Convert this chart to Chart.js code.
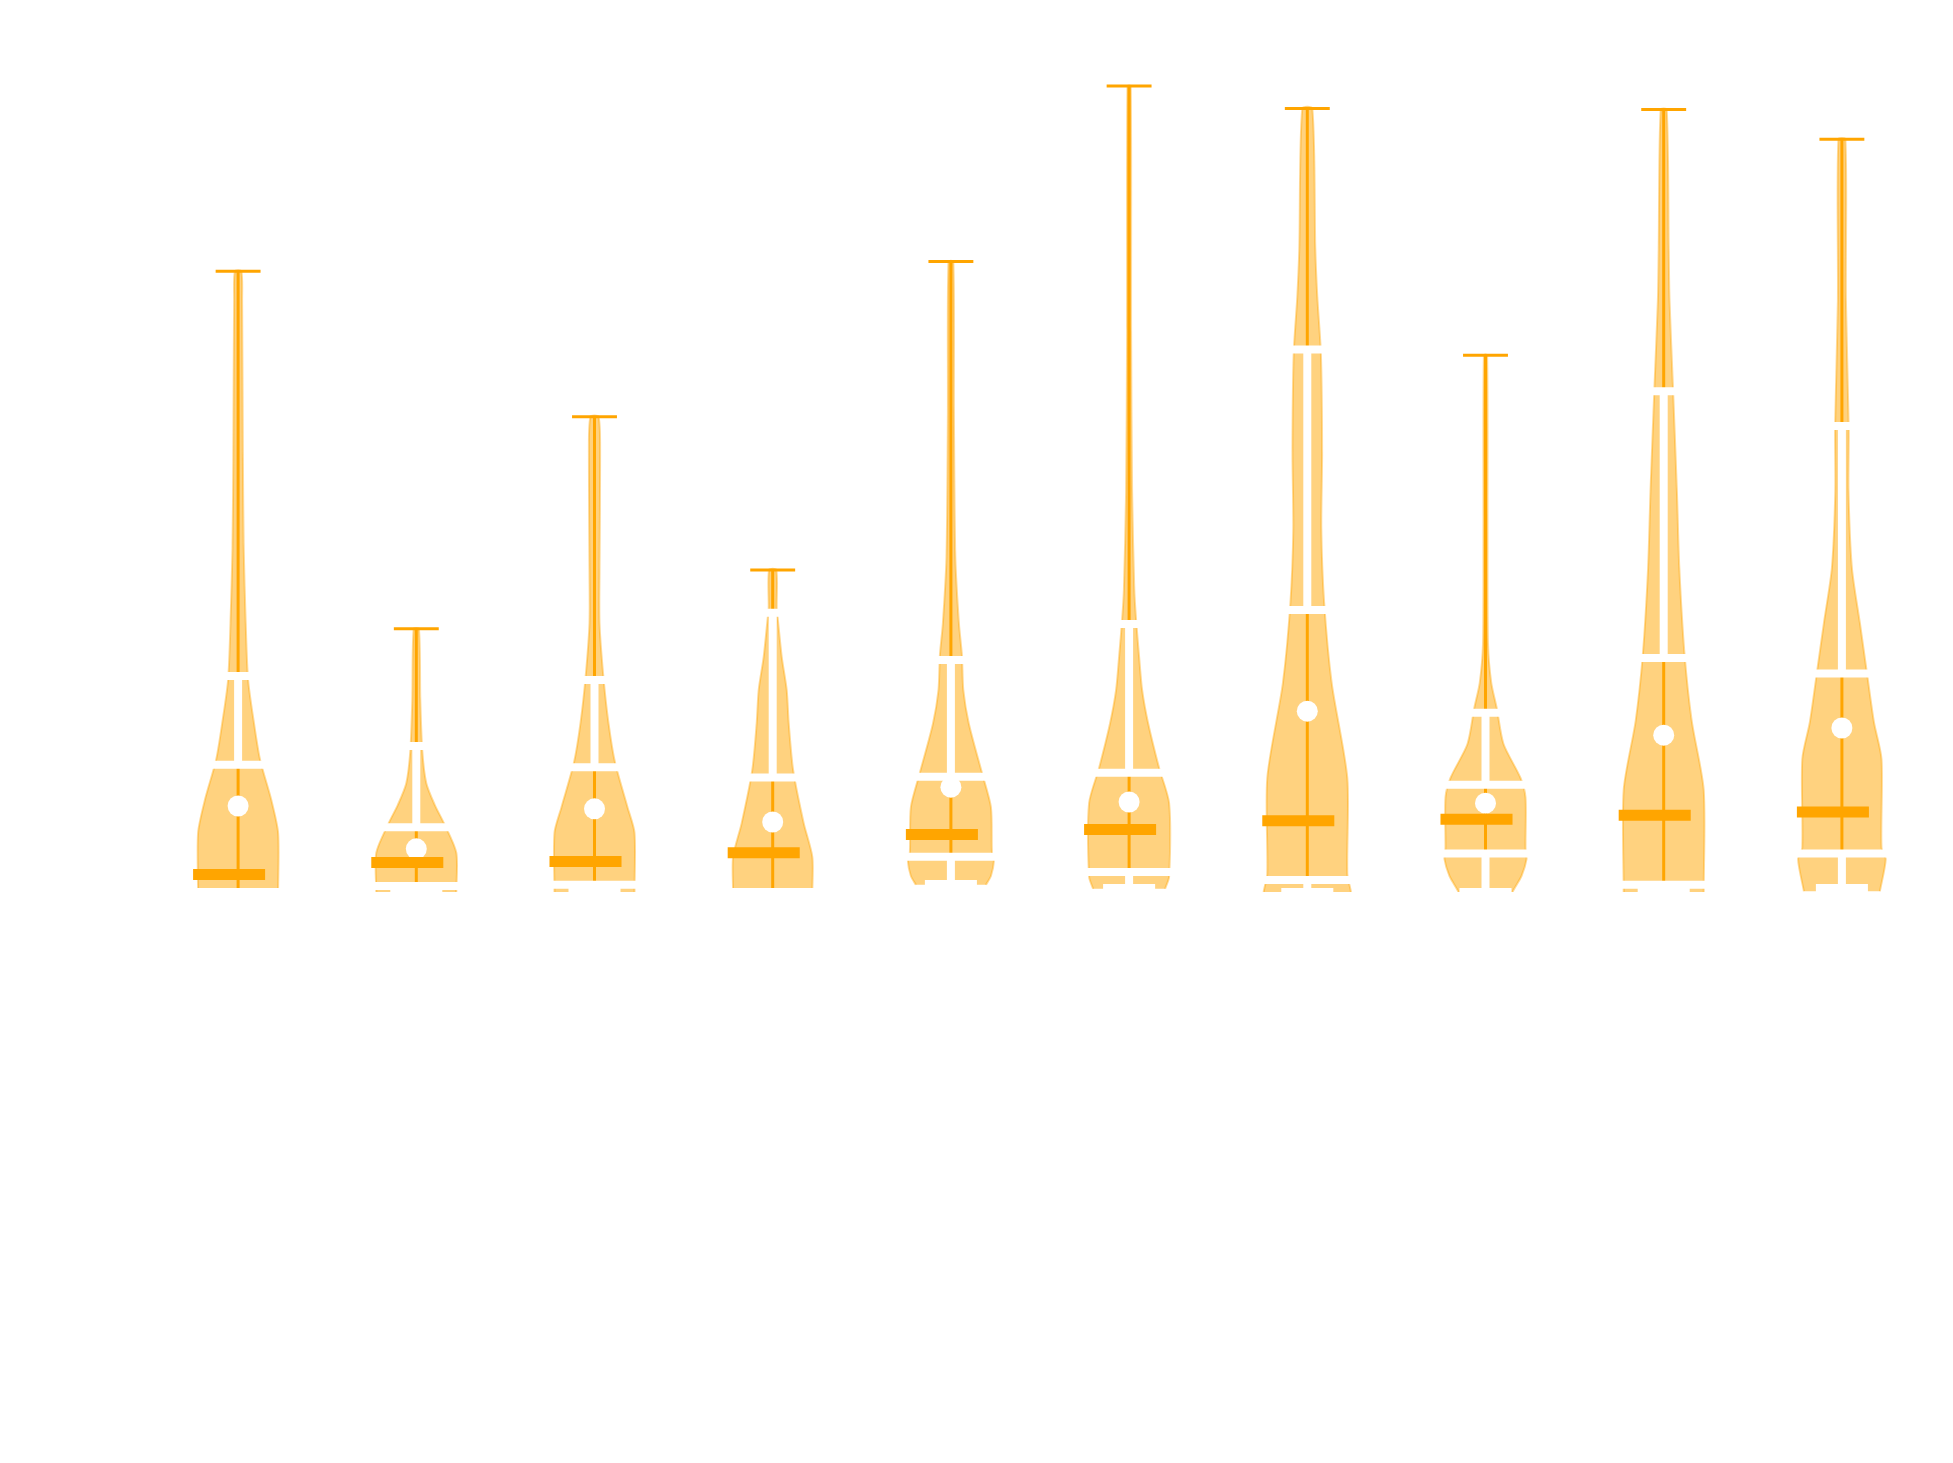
<!DOCTYPE html>
<html><head><meta charset="utf-8">
<script src="https://cdn.jsdelivr.net/npm/chart.js@4.4.0/dist/chart.umd.min.js"></script>
<style>html,body{margin:0;padding:0;background:#fff;}canvas{display:block;}</style>
</head><body>
<canvas id="c" width="1953" height="1463"></canvas>
<script>
// ---- data ----
const groups = [1, 2, 3, 4, 5, 6, 7, 8, 9, 10];
const maxVals      = [77.6, 32.9, 59.4, 40.25, 78.8, 100.75, 97.95, 67.1, 97.8, 94.1];
const upperWhisker = [27.0, 18.25, 26.5, 34.9, 29.0, 33.5, 67.8, 22.4, 62.6, 58.25];
const q3Vals       = [15.9, 8.1, 15.6, 14.3, 14.4, 14.9, 35.25, 13.4, 29.25, 27.3];
const meanVals     = [10.75, 5.4, 10.4, 8.75, 13.1, 11.25, 22.6, 11.1, 19.6, 20.5];
const medianVals   = [2.2, 3.7, 3.8, 4.9, 7.2, 7.8, 8.9, 9.1, 9.6, 10.0];
const q1Vals       = [0, 0.75, 0.9, 0, 4.4, 2.5, 1.5, 4.8, 0.9, 4.8];
const lowerWhisker = [0, 0, 0, 0, 1.0, 0.5, 0, 0, 0, 0.5];
const minVals      = [0, 0, 0, 0, 1.0, 0.4, 0, 0, 0, 0.1];

// violin density profiles (level, relative density); levels below 0 are the clipped tail
const levels1 = [-3, 0, 7.4, 11.5, 16.5, 21, 26.5, 33.6, 43, 54, 74, 77.6];
const dens1   = [1, 1, 1, 0.83, 0.55, 0.4, 0.25, 0.19, 0.14, 0.12, 0.1, 0.08];
const levels2 = [-3, 0, 4.9, 8.6, 10.9, 13.6, 17.6, 24, 32.9];
const dens2   = [1, 1, 1, 0.69, 0.46, 0.25, 0.15, 0.1, 0.065];
const levels3 = [-3, 0, 7.4, 10.6, 16.25, 21.1, 27, 33.6, 40, 55, 59.4];
const dens3   = [1, 1, 1, 0.825, 0.51, 0.35, 0.22, 0.125, 0.125, 0.14, 0.1];
const levels4 = [-3, 0, 4.4, 8.6, 15.25, 21.1, 25.25, 29.4, 34.25, 35.5, 40.25];
const dens4   = [0.99, 0.99, 0.99, 0.775, 0.51, 0.4, 0.35, 0.225, 0.125, 0.1, 0.09];
const levels5 = [0.9, 2, 3.9, 5, 10.6, 14.9, 21, 25.25, 29.6, 33.6, 41.9, 60, 78.8];
const dens5   = [0.875, 1, 1.075, 1.025, 1, 0.775, 0.45, 0.31, 0.275, 0.2, 0.11, 0.075, 0.06];
const levels6 = [0.4, 1.9, 11.1, 15.5, 21.1, 25.25, 29.4, 34, 37.75, 50, 70, 100.75];
const dens6   = [0.9, 1, 1, 0.75, 0.475, 0.325, 0.25, 0.175, 0.13, 0.075, 0.05, 0.04];
const levels7 = [-3, 0, 2.25, 14.25, 26.1, 36.25, 45.4, 54.9, 67.25, 74.4, 80.4, 97.95];
const dens7   = [1.12, 1.09, 1, 1, 0.61, 0.42, 0.35, 0.37, 0.34, 0.25, 0.2, 0.125];
const levels8 = [-2, 0, 2, 4.1, 5.5, 11.8, 14.25, 18.5, 23, 26.1, 31, 45, 67.1];
const dens8   = [0.55, 0.675, 0.9, 1.025, 1, 1, 0.875, 0.45, 0.28, 0.145, 0.0625, 0.05, 0.04];
const levels9 = [-3, 0, 12.75, 21.4, 29.75, 40.5, 50.1, 63.25, 74, 80.4, 97.8];
const dens9   = [1, 1, 1, 0.7, 0.52, 0.39, 0.33, 0.23, 0.145, 0.125, 0.075];
const levels10 = [0.1, 4.1, 5.5, 16.6, 21.25, 27.4, 33.6, 40.5, 50.1, 58, 74, 94.1];
const dens10   = [0.95, 1.095, 0.99, 0.99, 0.8, 0.625, 0.45, 0.25, 0.165, 0.17, 0.1, 0.0875];

// ---- styles ----
const ORANGE = '#FFA500';
const WHITE = '#ffffff';
const VIOLIN_HALF = 0.2245;
const CAP_HALF = 0.126;
const WCAP_HALF = 0.146;
const BOX_HALF = 0.28;
const MED_LEFT = 0.2526, MED_RIGHT = 0.1516;

const allLevels = [levels1, levels2, levels3, levels4, levels5, levels6, levels7, levels8, levels9, levels10];
const allDens = [dens1, dens2, dens3, dens4, dens5, dens6, dens7, dens8, dens9, dens10];

function seg(x1, y1, x2, y2, color, width, order) {
  return {
    data: [{x: x1, y: y1}, {x: x2, y: y2}],
    showLine: true, borderColor: color, borderWidth: width,
    pointRadius: 0, pointHoverRadius: 0, fill: false, order: order,
    clip: 0, borderCapStyle: 'butt', tension: 0
  };
}

const datasets = [];
groups.forEach((cx, i) => {
  const lv = allLevels[i], d = allDens[i];
  const pts = [];
  for (let k = 0; k < lv.length; k++) pts.push({x: cx + d[k] * VIOLIN_HALF, y: lv[k]});
  for (let k = lv.length - 1; k >= 0; k--) pts.push({x: cx - d[k] * VIOLIN_HALF, y: lv[k]});
  datasets.push({
    data: pts, showLine: true, fill: 'shape',
    backgroundColor: 'rgba(255,165,0,0.5)', borderColor: 'rgba(255,165,0,0.4)',
    borderWidth: 2, pointRadius: 0, pointHoverRadius: 0, tension: 0.25, order: 10, clip: 0
  });
  // orange extrema line + top cap
  datasets.push(seg(cx, minVals[i], cx, maxVals[i], ORANGE, 3, 8));
  datasets.push(seg(cx - CAP_HALF, maxVals[i], cx + CAP_HALF, maxVals[i], ORANGE, 3, 8));
  // white box plot
  datasets.push(seg(cx, q3Vals[i], cx, upperWhisker[i], WHITE, 8, 6));
  datasets.push(seg(cx, q1Vals[i], cx, lowerWhisker[i], WHITE, 8, 6));
  datasets.push(seg(cx - WCAP_HALF, upperWhisker[i], cx + WCAP_HALF, upperWhisker[i], WHITE, 8, 6));
  datasets.push(seg(cx - WCAP_HALF, lowerWhisker[i], cx + WCAP_HALF, lowerWhisker[i], WHITE, 8, 6));
  datasets.push(seg(cx - BOX_HALF, q3Vals[i], cx + BOX_HALF, q3Vals[i], WHITE, 8, 5));
  datasets.push(seg(cx - BOX_HALF, q1Vals[i], cx + BOX_HALF, q1Vals[i], WHITE, 8, 5));
  // median bar
  datasets.push(seg(cx - MED_LEFT, medianVals[i], cx + MED_RIGHT, medianVals[i], ORANGE, 11, 1));
});
// mean points
datasets.push({
  data: groups.map((g, i) => ({x: g, y: meanVals[i]})),
  showLine: false, pointRadius: 10.5, pointHoverRadius: 10.5,
  pointBackgroundColor: WHITE, pointBorderColor: WHITE, pointBorderWidth: 0,
  order: 2, clip: 0
});

new Chart(document.getElementById('c'), {
  type: 'scatter',
  data: {datasets},
  options: {
    responsive: false, animation: false, events: [],
    layout: {padding: {left: 149, right: 22, top: 12, bottom: 571}},
    plugins: {legend: {display: false}, tooltip: {enabled: false}},
    scales: {
      x: {type: 'linear', min: 0.5, max: 10.5, display: false},
      y: {type: 'linear', min: 0, max: 110, display: false}
    }
  }
});
</script>
</body></html>
